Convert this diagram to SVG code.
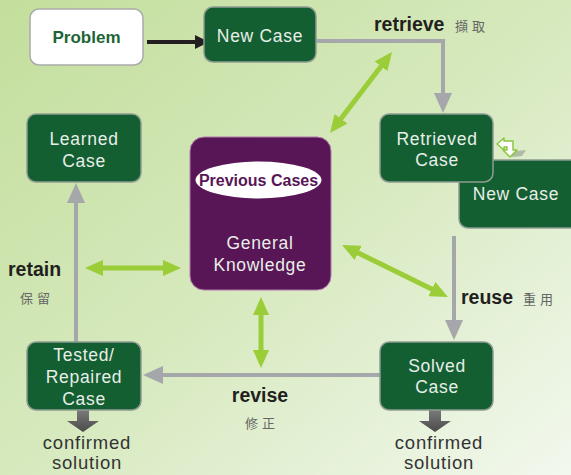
<svg xmlns="http://www.w3.org/2000/svg" width="571" height="475" viewBox="0 0 571 475">
<defs>
<linearGradient id="bg" x1="0" y1="0" x2="1" y2="1">
<stop offset="0" stop-color="#c3de9c"/>
<stop offset="0.5" stop-color="#d6e9bd"/>
<stop offset="1" stop-color="#f2f8ee"/>
</linearGradient>
<marker id="gh" viewBox="0 0 20 20" refX="8" refY="10" markerWidth="20" markerHeight="20" markerUnits="userSpaceOnUse" orient="auto">
<path d="M0,1 L20,10 L0,19 z" fill="#a6a7aa"/>
</marker>
<marker id="bh" viewBox="0 0 14 14" refX="4" refY="7" markerWidth="14" markerHeight="14" markerUnits="userSpaceOnUse" orient="auto">
<path d="M0,0 L14,7 L0,14 z" fill="#231f20"/>
</marker>
<marker id="lh" viewBox="0 0 18 16" refX="6" refY="8" markerWidth="18" markerHeight="16" markerUnits="userSpaceOnUse" orient="auto-start-reverse">
<path d="M0,0 L18,8 L0,16 z" fill="#9acd38"/>
</marker>
<linearGradient id="blk" x1="0" y1="0" x2="0" y2="1">
<stop offset="0" stop-color="#7a7a7a"/>
<stop offset="1" stop-color="#4a4a4a"/>
</linearGradient>
</defs>
<style>
.box{fill:#135f32;stroke:#8f9c92;stroke-width:1.5}
.bt{font-family:"Liberation Sans",Arial,sans-serif;font-size:17.5px;fill:#e8eee8;text-anchor:middle;letter-spacing:0.7px}
.lbl{font-family:"Liberation Sans",Arial,sans-serif;font-size:19.5px;font-weight:bold;fill:#231f20}
.cjk{font-family:"Noto Sans CJK TC","Noto Sans CJK SC",sans-serif;font-size:13px;fill:#666;letter-spacing:4px}
.sol{font-family:"Liberation Sans",Arial,sans-serif;font-size:18.5px;fill:#333;text-anchor:middle;letter-spacing:0.8px}
.gc{fill:none;stroke:#a6a7aa;stroke-width:4}
.lc{fill:none;stroke:#9acd38;stroke-width:5}
.blk{fill:url(#blk)}
</style>
<rect width="571" height="475" fill="url(#bg)"/>

<g id="connectors">
<line x1="147" y1="42" x2="199" y2="42" stroke="#231f20" stroke-width="4" marker-end="url(#bh)"/>
<path class="gc" d="M316,41 H443 V101" marker-end="url(#gh)"/>
<path class="gc" d="M454,236 V328" marker-end="url(#gh)"/>
<path class="gc" d="M380,375 H155" marker-end="url(#gh)"/>
<path class="gc" d="M76,342 V195" marker-end="url(#gh)"/>
<line class="lc" x1="337.3" y1="123.5" x2="384.7" y2="61.5" marker-start="url(#lh)" marker-end="url(#lh)"/>
<line class="lc" x1="352.8" y1="250.3" x2="437.2" y2="291.7" marker-start="url(#lh)" marker-end="url(#lh)"/>
<line class="lc" x1="261" y1="309" x2="261" y2="356" marker-start="url(#lh)" marker-end="url(#lh)"/>
<line class="lc" x1="97" y1="268" x2="169" y2="268" marker-start="url(#lh)" marker-end="url(#lh)"/>
<polygon class="blk" points="77,410 89,410 89,421 99,421 83,432 67,421 77,421"/>
<polygon class="blk" points="429,410 441,410 441,421 451,421 435,432 419,421 429,421"/>
</g>

<g id="labels">
<text class="lbl" x="374" y="31">retrieve</text>
<text class="cjk" x="455" y="31">擷取</text>
<text class="lbl" x="8" y="276">retain</text>
<text class="cjk" x="20" y="303">保留</text>
<text class="lbl" x="461" y="304">reuse</text>
<text class="cjk" x="523" y="304">重用</text>
<text class="lbl" x="260" y="402" text-anchor="middle">revise</text>
<text class="cjk" x="262" y="428" text-anchor="middle">修正</text>
<text class="sol" x="87" y="449">confirmed</text>
<text class="sol" x="87" y="469">solution</text>
<text class="sol" x="439" y="449">confirmed</text>
<text class="sol" x="439" y="469">solution</text>
</g>

<g id="problem">
<rect x="30" y="9" width="113" height="56" rx="9" fill="#fff" stroke="#a9aba9" stroke-width="1.5"/>
<text x="86.5" y="43" text-anchor="middle" font-family="'Liberation Sans',Arial,sans-serif" font-size="17" font-weight="bold" fill="#1b6534">Problem</text>
</g>

<g id="new-case">
<rect class="box" x="204" y="7" width="112" height="55" rx="9"/>
<text class="bt" x="260" y="42">New Case</text>
</g>

<g id="new-case-2">
<rect class="box" x="459" y="160" width="125" height="68" rx="9"/>
<text class="bt" x="516" y="200">New Case</text>
</g>

<g id="retrieved-case">
<rect class="box" x="380" y="114" width="113" height="68" rx="9"/>
<text class="bt" x="437" y="145">Retrieved</text>
<text class="bt" x="437" y="166">Case</text>
</g>

<g id="swap-icon">
<path d="M508,152 L526,150 L522,156 L512,157 Z" fill="#8a9686" opacity="0.55"/>
<path d="M497,144 L504,138 L504,141 L513,141 L513,150 L517,150 L510,157 L503,150 L507,150 L507,147 L504,147 L504,150 Z" fill="#fff" stroke="#8cc63f" stroke-width="1.5" stroke-linejoin="round"/>
</g>

<g id="learned-case">
<rect class="box" x="27" y="114" width="114" height="68" rx="9"/>
<text class="bt" x="84" y="145">Learned</text>
<text class="bt" x="84" y="167">Case</text>
</g>

<g id="knowledge">
<rect x="190" y="137" width="141" height="153" rx="14" fill="#581656" stroke="#b07aae" stroke-width="1"/>
<ellipse cx="258.5" cy="180" rx="63" ry="18.5" fill="#fff"/>
<text x="258.5" y="185.5" text-anchor="middle" font-family="'Liberation Sans',Arial,sans-serif" font-size="16" font-weight="bold" fill="#581656">Previous Cases</text>
<text class="bt" x="260" y="249" fill="#e0d6e0">General</text>
<text class="bt" x="260" y="271">Knowledge</text>
</g>

<g id="solved-case">
<rect class="box" x="380" y="342" width="113" height="68" rx="9"/>
<text class="bt" x="437" y="372">Solved</text>
<text class="bt" x="437" y="393">Case</text>
</g>

<g id="tested-case">
<rect class="box" x="27" y="342" width="114" height="68" rx="9"/>
<text class="bt" x="84" y="361">Tested/</text>
<text class="bt" x="84" y="383">Repaired</text>
<text class="bt" x="84" y="405">Case</text>
</g>
</svg>
